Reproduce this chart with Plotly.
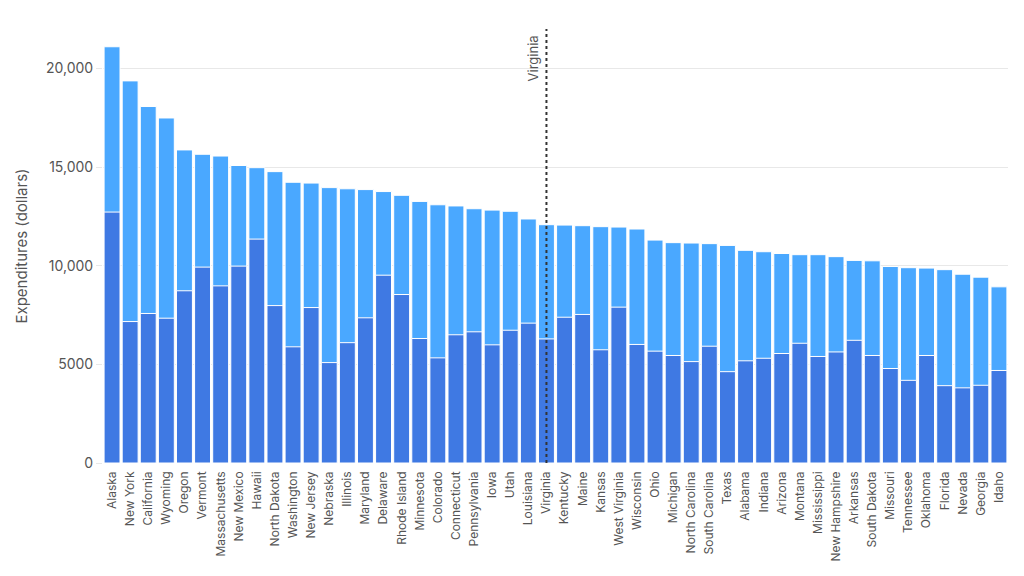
import plotly.graph_objects as go

states = ["Alaska", "New York", "California", "Wyoming", "Oregon", "Vermont", "Massachusetts",
          "New Mexico", "Hawaii", "North Dakota", "Washington", "New Jersey", "Nebraska", "Illinois",
          "Maryland", "Delaware", "Rhode Island", "Minnesota", "Colorado", "Connecticut",
          "Pennsylvania", "Iowa", "Utah", "Louisiana", "Virginia", "Kentucky", "Maine", "Kansas",
          "West Virginia", "Wisconsin", "Ohio", "Michigan", "North Carolina", "South Carolina",
          "Texas", "Alabama", "Indiana", "Arizona", "Montana", "Mississippi", "New Hampshire",
          "Arkansas", "South Dakota", "Missouri", "Tennessee", "Oklahoma", "Florida", "Nevada",
          "Georgia", "Idaho"]

total = [21100, 19370, 18070, 17490, 15870, 15650, 15560, 15080, 14970, 14770, 14230, 14190,
         13960, 13900, 13860, 13760, 13570, 13260, 13090, 13030, 12890, 12820, 12760, 12370,
         12080, 12060, 12030, 11980, 11960, 11860, 11300, 11170, 11150, 11120, 11030, 10780,
         10710, 10620, 10560, 10560, 10460, 10270, 10250, 9960, 9900, 9880, 9800, 9570, 9420, 8930]

dark = [12720, 7170, 7580, 7340, 8730, 9930, 8980, 9980, 11350, 7980, 5890, 7880, 5090, 6100,
        7360, 9520, 8540, 6310, 5330, 6500, 6650, 5990, 6730, 7090, 6290, 7390, 7530, 5740,
        7900, 6010, 5670, 5450, 5140, 5920, 4630, 5180, 5310, 5550, 6070, 5400, 5630, 6220,
        5450, 4790, 4190, 5450, 3920, 3810, 3940, 4690]

y_tick_vals = [0, 5000, 10000, 15000, 20000]
y_tick_text = ["0", "5000", "10,000", "15,000", "20,000"]
highlight = "Virginia"

FONT = "Inter, Roboto, sans-serif"
LIGHT = "#4aa8ff"
DARK = "#3f79e3"

fig = go.Figure()
fig.add_trace(go.Bar(x=states, y=total, marker=dict(color=LIGHT, line=dict(color="white", width=1)),
                     hoverinfo="x+y", showlegend=False))
fig.add_trace(go.Bar(x=states, y=dark, marker=dict(color=DARK, line=dict(color="white", width=1)),
                     hoverinfo="x+y", showlegend=False))

fig.add_shape(type="line", xref="x", yref="paper", x0=highlight, x1=highlight, y0=0, y1=1,
              line=dict(color="#333333", width=2, dash="dot"))
fig.add_annotation(x=highlight, xref="x", y=1, yref="paper", text=highlight, showarrow=False,
                   textangle=-90, xanchor="right", yanchor="top", xshift=-3, yshift=-4,
                   font=dict(family=FONT, size=13, color="#555555"))

fig.update_layout(
    width=1024, height=576,
    barmode="overlay", bargap=0.12,
    margin=dict(l=103, r=16, t=29, b=113),
    plot_bgcolor="white", paper_bgcolor="white",
    font=dict(family=FONT, color="#555555"),
    xaxis=dict(tickangle=-90, tickfont=dict(size=12, color="#555555"), showgrid=False,
               showline=False, ticks="", ticklabelstandoff=5),
    yaxis=dict(range=[0, 22000], tickvals=y_tick_vals, ticktext=y_tick_text,
               tickfont=dict(size=14, color="#555555"), gridcolor="#e8e8e8", gridwidth=1,
               zeroline=False, ticks="outside", ticklen=6, tickcolor="#e8e8e8",
               title=dict(text="Expenditures (dollars)", font=dict(size=15, color="#555555"), standoff=14)),
)

fig.write_html("out.html", config={"displayModeBar": False},
               post_script="document.body.style.margin='0';")
